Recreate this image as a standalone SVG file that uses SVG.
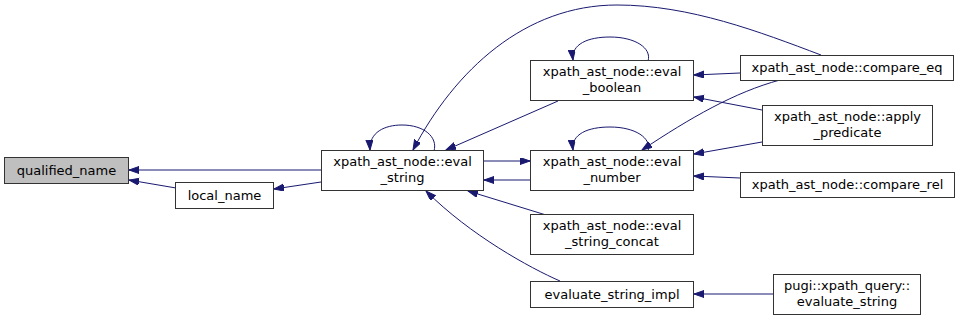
<svg xmlns="http://www.w3.org/2000/svg" width="960" height="320" viewBox="0 0 960 320">
  <style>
    .node rect { fill: #ffffff; stroke: #333333; stroke-width: 1; }
    .node.current rect { fill: #bfbfbf; }
    .node text { font-family: "DejaVu Sans", "Noto Sans", sans-serif; font-size: 13px; fill: #000000; text-anchor: middle; }
    .edges path { fill: none; stroke: #191970; stroke-width: 1; marker-end: url(#arrow); }
  </style>
  <defs>
    <marker id="arrow" markerUnits="userSpaceOnUse" markerWidth="11" markerHeight="8" refX="10" refY="3.5" orient="auto">
      <path d="M0,0 L10,3.5 L0,7 Z" fill="#191970" stroke="#191970" stroke-width="1"/>
    </marker>
  </defs>
  <rect width="960" height="320" fill="#ffffff"/>

  <g class="edges">
    <!-- eval_string -> qualified_name -->
    <path d="M321,170 L129,170"/>
    <!-- local_name -> qualified_name -->
    <path d="M176,188 L129,180"/>
    <!-- eval_string -> local_name -->
    <path d="M321,182 L274,189"/>
    <!-- eval_string self call -->
    <path d="M434,151 C438,137 424,125 402,125 C385,125 369,132 370,150"/>
    <!-- compare_eq -> eval_string -->
    <path d="M821,55 C760,32 690,5 617,5 C525,5 455,70 413,150"/>
    <!-- eval_boolean -> eval_string -->
    <path d="M558,101 L446,150"/>
    <!-- eval_string -> eval_number -->
    <path d="M484,161 L530,161"/>
    <!-- eval_number -> eval_string -->
    <path d="M530,180 L484,180"/>
    <!-- eval_string_concat -> eval_string -->
    <path d="M546,215 L468,191"/>
    <!-- evaluate_string_impl -> eval_string -->
    <path d="M560,281 C530,268 470,235 426,191"/>
    <!-- eval_boolean self call -->
    <path d="M648,61 C652,48 635,37 610,37 C588,37 571,44 573,60"/>
    <!-- eval_number self call -->
    <path d="M648,151 C652,138 635,127 610,127 C588,127 571,134 573,150"/>
    <!-- compare_eq -> eval_boolean -->
    <path d="M740,73 L694,75"/>
    <!-- apply_predicate -> eval_boolean -->
    <path d="M762,110 L694,97"/>
    <!-- compare_eq -> eval_number -->
    <path d="M780,80 C735,92 690,118 642,150"/>
    <!-- apply_predicate -> eval_number -->
    <path d="M762,142 L694,154"/>
    <!-- compare_rel -> eval_number -->
    <path d="M740,178 L694,176"/>
    <!-- pugi::xpath_query::evaluate_string -> evaluate_string_impl -->
    <path d="M773,294 L694,294"/>
  </g>

  <g id="node-qualified_name" class="node current">
    <rect x="4.5" y="157.5" width="124" height="26"/>
    <text x="66.5" y="175">qualified_name</text>
  </g>
  <g id="node-local_name" class="node">
    <rect x="175.5" y="182.5" width="98" height="26"/>
    <text x="224.5" y="200">local_name</text>
  </g>
  <g id="node-eval_string" class="node">
    <rect x="321.5" y="150.5" width="162" height="40"/>
    <text x="402.5" y="166">xpath_ast_node::eval</text>
    <text x="402.5" y="182">_string</text>
  </g>
  <g id="node-eval_boolean" class="node">
    <rect x="530.5" y="60.5" width="163" height="40"/>
    <text x="612" y="76">xpath_ast_node::eval</text>
    <text x="612" y="92">_boolean</text>
  </g>
  <g id="node-eval_number" class="node">
    <rect x="530.5" y="150.5" width="163" height="40"/>
    <text x="612" y="166">xpath_ast_node::eval</text>
    <text x="612" y="182">_number</text>
  </g>
  <g id="node-eval_string_concat" class="node">
    <rect x="530.5" y="214.5" width="163" height="40"/>
    <text x="612" y="230">xpath_ast_node::eval</text>
    <text x="612" y="246">_string_concat</text>
  </g>
  <g id="node-evaluate_string_impl" class="node">
    <rect x="530.5" y="281.5" width="163" height="26"/>
    <text x="612" y="299">evaluate_string_impl</text>
  </g>
  <g id="node-compare_eq" class="node">
    <rect x="740.5" y="55.5" width="213" height="25"/>
    <text x="847" y="72">xpath_ast_node::compare_eq</text>
  </g>
  <g id="node-apply_predicate" class="node">
    <rect x="762.5" y="105.5" width="170" height="40"/>
    <text x="847.5" y="121">xpath_ast_node::apply</text>
    <text x="847.5" y="137">_predicate</text>
  </g>
  <g id="node-compare_rel" class="node">
    <rect x="740.5" y="172.5" width="214" height="25"/>
    <text x="847.5" y="189">xpath_ast_node::compare_rel</text>
  </g>
  <g id="node-evaluate_string" class="node">
    <rect x="773.5" y="274.5" width="147" height="40"/>
    <text x="847" y="290">pugi::xpath_query::</text>
    <text x="847" y="306">evaluate_string</text>
  </g>
</svg>
